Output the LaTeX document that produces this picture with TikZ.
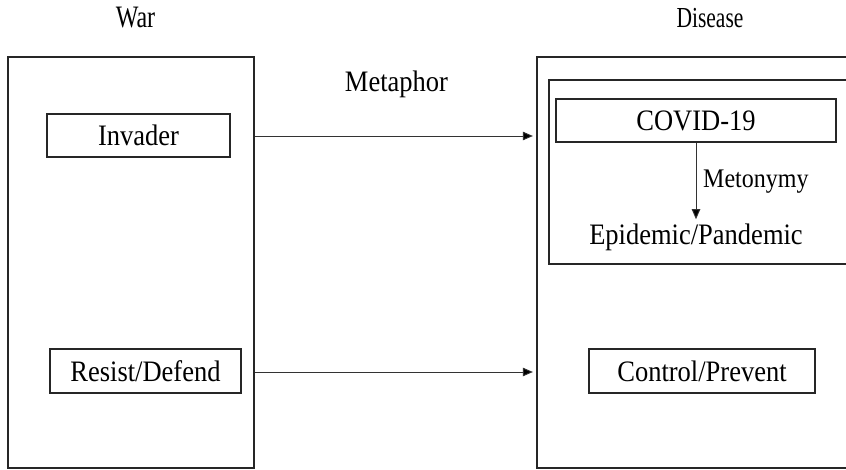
\documentclass[tikz,border=0pt]{standalone}
\usepackage{graphicx}
\usepackage{fontspec}
\setmainfont{Liberation Serif}
\usetikzlibrary{arrows.meta}
% vertically stretched label text
\newcommand\stretchy[2]{\scalebox{1}[#1]{#2}}
\begin{document}
\begin{tikzpicture}[x=1pt,y=-1pt,
  frame/.style={draw=black!85,line width=1.3pt,rectangle,inner sep=0pt},
  termbox/.style={draw=black!85,line width=1.2pt,rectangle,inner sep=0pt,
    font=\fontsize{26.5}{30}\selectfont},
  plain/.style={inner sep=0pt,font=\fontsize{26.5}{30}\selectfont},
  link/.style={draw=black!80,line width=0.9pt,-{Triangle[length=10pt,width=8.5pt,fill=black]}}]
\useasboundingbox (0,0) rectangle (846,470);
\clip (0,0) rectangle (846,470);
% headings
\node[plain,anchor=base,font=\fontsize{24}{28}\selectfont] (war) at (135.5,28) {\stretchy{1.3}{War}};
\node[plain,anchor=base,font=\fontsize{21.5}{28}\selectfont] (disease) at (710,28) {\stretchy{1.35}{Disease}};
\node[plain,anchor=base] (metaphor) at (396.5,92) {\stretchy{1.12}{Metaphor}};
% source domain
\node[frame,minimum width=246pt,minimum height=411pt] (leftbox) at (131,262.5) {};
\node[termbox,minimum width=183pt,minimum height=43pt] (invader) at (138.5,135.5) {\stretchy{1.12}{Invader}};
\node[termbox,minimum width=191pt,minimum height=44pt] (resist) at (145.5,371) {\stretchy{1.12}{Resist/Defend}};
% target domain (runs past the right edge)
\node[frame,minimum width=340pt,minimum height=411pt] (rightbox) at (707,262.5) {};
\node[frame,minimum width=320pt,minimum height=184pt] (inner) at (709,172) {};
\node[termbox,minimum width=280pt,minimum height=43pt] (covid) at (696,120.5) {\stretchy{1.12}{COVID-19}};
\node[plain,anchor=base] (epi) at (696,245) {\stretchy{1.12}{Epidemic/Pandemic}};
\node[plain,anchor=base west,font=\fontsize{24}{28}\selectfont] (metonymy) at (703,188) {\stretchy{1.12}{Metonymy}};
\node[termbox,minimum width=226pt,minimum height=44pt] (control) at (702,371) {\stretchy{1.12}{Control/Prevent}};
% mappings
\draw[link,shorten >=3.5pt] (leftbox.east |- 0,136) -- (rightbox.west |- 0,136);
\draw[link,shorten >=3.5pt] (leftbox.east |- 0,372) -- (rightbox.west |- 0,372);
\draw[link] (covid.south) -- ([yshift=5pt]epi.north);
\end{tikzpicture}
\end{document}
